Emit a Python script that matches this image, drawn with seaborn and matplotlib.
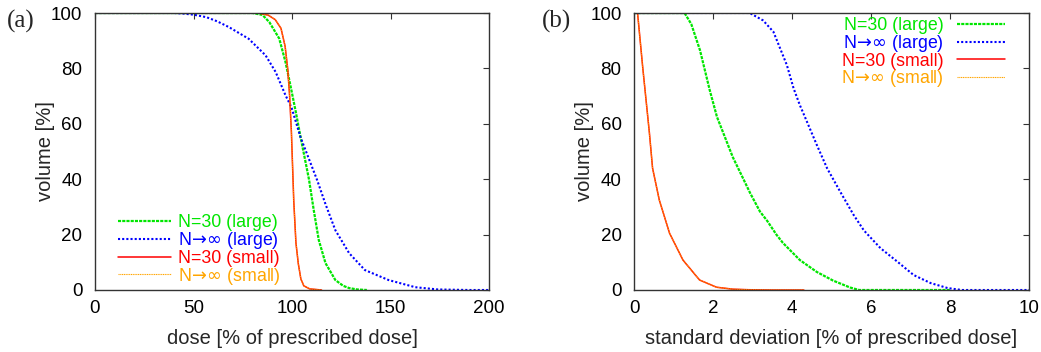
import numpy as np
import pandas as pd
import matplotlib
matplotlib.use("Agg")
import matplotlib.pyplot as plt
import seaborn as sns

# ---------------- data: panel (a) ----------------
dose_green = [0, 80, 85, 88.5, 93.5, 96.7, 99.5, 102, 104.4, 108.6, 111, 113.6, 117, 122, 126, 129, 133, 138]
vol_green = [100, 100, 99.3, 96.7, 90.8, 82.3, 72.8, 64, 55, 40, 29, 18, 9.7, 3.6, 1.5, 0.7, 0.2, 0]

dose_blue = [0, 40, 44.5, 50, 56.5, 62, 68, 78, 86.6, 91.7, 96.7, 99.7, 104.4, 112.8, 117, 122, 129, 137, 149, 162.6, 174, 190, 200]
vol_blue = [100, 100, 99.8, 99.4, 98.5, 97, 94.9, 90.7, 84.7, 78.7, 70.3, 66, 55, 39.6, 31, 21.6, 13.3, 7.2, 3.6, 1, 0.2, 0, 0]

dose_red = [0, 83, 88, 91.5, 94.4, 96.5, 97.8, 98.8, 99.7, 100.9, 102, 103.2, 104.5, 106, 109, 115]
vol_red = [100, 100, 99.2, 97.6, 94.5, 88, 80, 70, 57, 32, 17, 9.5, 4, 1.5, 0.4, 0]

dose_orange = [0, 83, 88, 91.5, 94.4, 96.5, 97.8, 98.8, 99.7, 100.9, 102, 103.2, 104.5, 106, 109, 115]
vol_orange = [100, 100, 99.2, 97.6, 94.5, 88, 80, 70, 57, 32, 17, 9.5, 4, 1.5, 0.4, 0]

# ---------------- data: panel (b) ----------------
sd_green = [0, 1.28, 1.45, 1.67, 1.92, 2.1, 2.5, 2.68, 2.94, 3.19, 3.37, 3.61, 3.77, 4.2, 4.63, 5.04, 5.47, 5.7, 8.0]
volb_green = [100, 100, 96, 86.6, 72, 62.5, 48, 42.7, 35, 28.3, 25, 19.9, 17, 10.8, 6.5, 3.4, 0.9, 0, 0]

sd_blue = [0, 2.93, 3.27, 3.53, 3.70, 3.87, 4.04, 4.2, 4.38, 4.63, 4.89, 5.22, 5.56, 5.82, 6.24, 6.67, 7.08, 7.51, 7.94, 8.3, 10]
volb_blue = [100, 100, 97.3, 93.2, 87.2, 81.2, 72.8, 66.7, 60.7, 52.3, 43.9, 35.5, 27.1, 21.5, 15.1, 10.2, 5.4, 2.5, 0.7, 0, 0]

sd_red = [0, 0.09, 0.22, 0.39, 0.47, 0.64, 0.9, 1.24, 1.66, 2.09, 2.5, 2.9, 3.5, 4.3]
volb_red = [100, 100, 80.5, 56.7, 44, 32.5, 20.5, 10.8, 3.6, 1, 0.3, 0.1, 0, 0]

sd_orange = [0, 0.09, 0.22, 0.39, 0.47, 0.64, 0.9, 1.24, 1.66, 2.09, 2.5, 2.9, 3.5, 4.3]
volb_orange = [100, 100, 80.5, 56.7, 44, 32.5, 20.5, 10.8, 3.6, 1, 0.3, 0.1, 0, 0]

labels = ["N=30 (large)", r"N$\!\rightarrow\!\infty$ (large)", "N=30 (small)", r"N$\!\rightarrow\!\infty$ (small)"]
xticks_a = [0, 50, 100, 150, 200]
xticks_b = [0, 2, 4, 6, 8, 10]
yticks = [0, 20, 40, 60, 80, 100]

# ---------------- style ----------------
sns.set_style("white")
plt.rcParams["font.family"] = ["Liberation Sans", "DejaVu Sans"]
plt.rcParams["axes.edgecolor"] = "#333333"
plt.rcParams["mathtext.fontset"] = "dejavusans"

colors = ["#00e600", "#0000ff", "#ff0000", "#ffa500"]
styles = [
    dict(lw=1.6, linestyle=(0, (1.4, 0.5))),
    dict(lw=1.5, linestyle=(0, (1.0, 1.0))),
    dict(lw=1.1, linestyle="-"),
    dict(lw=0.8, linestyle=(0, (1.0, 0.6))),
]

fig = plt.figure(figsize=(10.41, 3.52), dpi=100)
W, H = 1041, 352
ax_a = fig.add_axes([95 / W, 1 - 290 / H, (489 - 95) / W, (290 - 13) / H])
ax_b = fig.add_axes([634 / W, 1 - 290 / H, (1029 - 634) / W, (290 - 13) / H])

series_a = [(dose_green, vol_green), (dose_blue, vol_blue), (dose_red, vol_red), (dose_orange, vol_orange)]
series_b = [(sd_green, volb_green), (sd_blue, volb_blue), (sd_red, volb_red), (sd_orange, volb_orange)]

FS_TICK = 13.5
FS_LAB = 14.5
FS_LEG = 12.8
for ax, series, xt, xlab in [
    (ax_a, series_a, xticks_a, "dose [% of prescribed dose]"),
    (ax_b, series_b, xticks_b, "standard deviation [% of prescribed dose]"),
]:
    for (x, y), c, st, lab in zip(series, colors, styles, labels):
        df = pd.DataFrame({"x": x, "y": y})
        sns.lineplot(data=df, x="x", y="y", ax=ax, color=c, label=lab,
                     estimator=None, sort=False, **st)
    ax.set_xlim(xt[0], xt[-1])
    ax.set_ylim(0, 100)
    ax.set_xticks(xt)
    ax.set_yticks(yticks)
    ax.tick_params(direction="in", length=4, width=0.8, top=True, right=True,
                   labelsize=FS_TICK, colors="#333333", labelcolor="black")
    ax.tick_params(axis="x", pad=7)
    ax.tick_params(axis="y", pad=9)
    ax.set_xlabel(xlab, fontsize=FS_LAB, labelpad=9)
    ax.set_ylabel("volume [%]", fontsize=FS_LAB)
    ax.yaxis.set_label_coords(-0.101, 0.5)
    for s in ax.spines.values():
        s.set_linewidth(1.0)
        s.set_visible(True)

leg_a = ax_a.legend(loc="lower left", bbox_to_anchor=(0.058, 0.012), frameon=False,
                    fontsize=FS_LEG, handlelength=3.0, handletextpad=0.4, labelspacing=-0.07,
                    borderpad=0, borderaxespad=0)
leg_b = ax_b.legend(loc="upper right", bbox_to_anchor=(0.939, 0.985), frameon=False,
                    fontsize=FS_LEG, handlelength=2.7, handletextpad=0.75, labelspacing=-0.07,
                    borderpad=0, borderaxespad=0, markerfirst=False)
for leg in (leg_a, leg_b):
    for t, c in zip(leg.get_texts(), colors):
        t.set_color(c)

fig.text(7 / W, 1 - 28 / H, "(a)", fontsize=18, family=["Liberation Serif", "DejaVu Serif"], va="baseline")
fig.text(542 / W, 1 - 28 / H, "(b)", fontsize=18, family=["Liberation Serif", "DejaVu Serif"], va="baseline")

fig.savefig("out.png", dpi=100)
